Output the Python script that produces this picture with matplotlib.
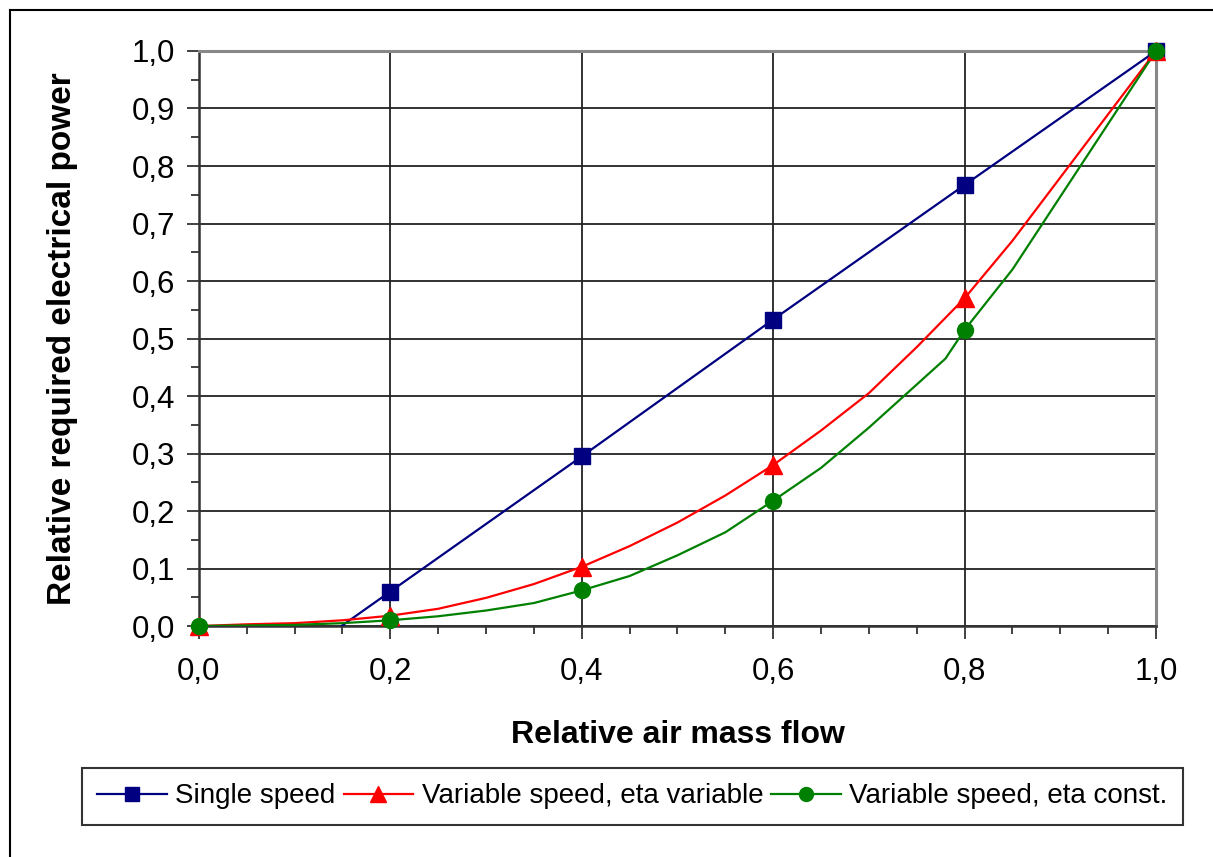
import matplotlib.pyplot as plt
from matplotlib.lines import Line2D
from matplotlib.ticker import MultipleLocator, FuncFormatter

plt.rcParams['font.family'] = ['Liberation Sans', 'DejaVu Sans']

# relative air mass flow / relative electrical power
single_x = [0.0, 0.2, 0.4, 0.6, 0.8, 1.0]
single_y = [-0.175, 0.06, 0.295, 0.533, 0.767, 1.0]

var_eta_x = [0.0, 0.05, 0.1, 0.15, 0.2, 0.25, 0.3, 0.35, 0.4, 0.45, 0.5, 0.55,
             0.6, 0.65, 0.7, 0.75, 0.8, 0.85, 1.0]
var_eta_y = [0.0, 0.003, 0.005, 0.01, 0.018, 0.03, 0.049, 0.073, 0.103, 0.139,
             0.18, 0.227, 0.28, 0.34, 0.405, 0.485, 0.57, 0.67, 1.0]

const_eta_x = [0.0, 0.05, 0.1, 0.15, 0.2, 0.25, 0.3, 0.35, 0.4, 0.45, 0.5, 0.55,
               0.6, 0.65, 0.7, 0.75, 0.78, 0.8, 0.85, 1.0]
const_eta_y = [0.0, 0.001, 0.002, 0.005, 0.01, 0.017, 0.027, 0.04, 0.062, 0.087,
               0.123, 0.163, 0.218, 0.275, 0.345, 0.42, 0.465, 0.515, 0.62, 1.0]

marker_x = [0.0, 0.2, 0.4, 0.6, 0.8, 1.0]

series = [
    ("Single speed", single_x, single_y, "#000080", "s", 11.5),
    ("Variable speed, eta variable", var_eta_x, var_eta_y, "#FF0000", "^", 12.5),
    ("Variable speed, eta const.", const_eta_x, const_eta_y, "#008000", "o", 11.5),
]

fig = plt.figure(figsize=(12.13, 8.57), dpi=100)
ax = fig.add_axes([0.164, 0.2695, 0.789, 0.671])

handles = []
for name, xs, ys, col, mk, ms in series:
    ax.plot(xs, ys, color=col, lw=1.6, zorder=3)
    mx = [x for x, y in zip(xs, ys) if x in marker_x and y >= 0]
    my = [y for x, y in zip(xs, ys) if x in marker_x and y >= 0]
    ax.plot(mx, my, ls="none", marker=mk, ms=ms, color=col, clip_on=False, zorder=4)
    handles.append(Line2D([], [], color=col, lw=1.6, marker=mk, ms=ms - 1.5))

ax.set_xlim(0, 1)
ax.set_ylim(0, 1)
ax.xaxis.set_major_locator(MultipleLocator(0.2))
ax.xaxis.set_minor_locator(MultipleLocator(0.05))
ax.yaxis.set_major_locator(MultipleLocator(0.1))
ax.yaxis.set_minor_locator(MultipleLocator(0.05))
fmt = FuncFormatter(lambda v, p: f"{v:.1f}".replace(".", ","))
ax.xaxis.set_major_formatter(fmt)
ax.yaxis.set_major_formatter(fmt)

ax.grid(True, which="major", color="#222222", lw=1.3, zorder=1)
ax.tick_params(which="major", direction="out", length=9, width=1.3, color="#333333",
               labelsize=22.5)
ax.tick_params(which="minor", direction="out", length=6, width=1.3, color="#333333")
ax.tick_params(axis="x", which="major", pad=13)
ax.tick_params(axis="y", which="major", pad=8)

for s in ["left", "bottom"]:
    ax.spines[s].set_color("#333333")
    ax.spines[s].set_linewidth(1.8)
for s in ["top", "right"]:
    ax.spines[s].set_color("#888888")
    ax.spines[s].set_linewidth(2.2)

ax.set_xlabel("Relative air mass flow", fontsize=23, fontweight="bold")
ax.xaxis.set_label_coords(0.5, -0.19)
ax.xaxis.label.set_verticalalignment("center")
ax.set_ylabel("Relative required electrical power", fontsize=24, fontweight="bold")
ax.yaxis.set_label_coords(-0.143, 0.5)
ax.yaxis.label.set_verticalalignment("center")

leg = fig.legend(handles, [s[0] for s in series], loc="center",
                 bbox_to_anchor=(0.5214, 0.0706), ncol=3, fontsize=20,
                 frameon=True, fancybox=False, edgecolor="black",
                 handlelength=2.5, handletextpad=0.3, columnspacing=0.3,
                 borderpad=0.55, borderaxespad=0)
leg.get_frame().set_linewidth(1.5)

# outer chart border
fig.add_artist(Line2D([10 / 1213, 10 / 1213], [0, 1 - 10 / 857], color="black", lw=1.5))
fig.add_artist(Line2D([10 / 1213, 1], [1 - 10 / 857, 1 - 10 / 857], color="black", lw=1.5))

fig.savefig("out.png", dpi=100)
